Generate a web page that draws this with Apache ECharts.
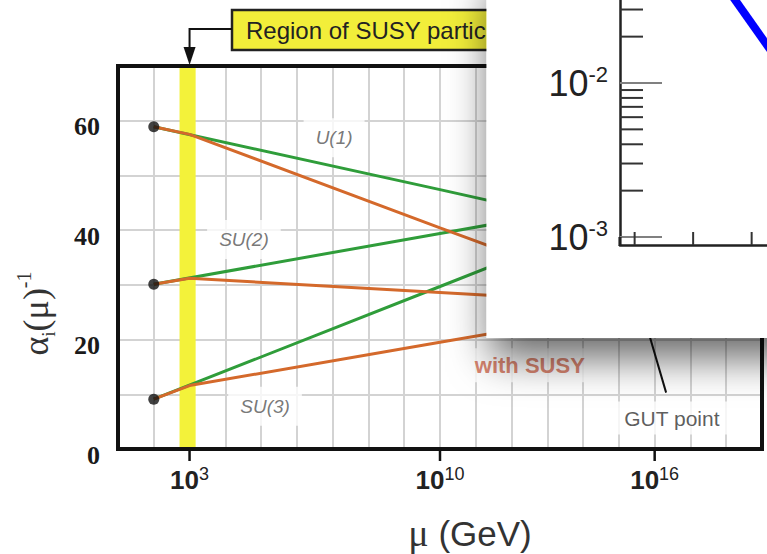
<!DOCTYPE html>
<html>
<head>
<meta charset="utf-8">
<script src="https://cdn.jsdelivr.net/npm/echarts@6/dist/echarts.min.js"></script>
<style>
  html, body { margin: 0; padding: 0; background: #fff; }
  #chart { width: 767px; height: 554px; }
</style>
</head>
<body>
<div id="chart"></div>
<script>
// Running of the inverse gauge couplings, x = log10(mu / GeV)
const u1SM    = [[2, 58.9], [10, 47.4], [16, 38.7]];
const su2SM   = [[2, 30.1], [10, 39.4], [16, 46.3]];
const su3SM   = [[2, 9.1],  [10, 29.7], [16, 45.2]];
const u1SUSY  = [[2, 58.9], [3, 57.5], [10, 40.4], [16, 26.0]];
const su2SUSY = [[2, 30.1], [3, 31.2], [10, 28.6], [16, 26.4]];
const su3SUSY = [[2, 9.1],  [3, 11.6], [10, 19.5], [16, 26.2]];
const mzPoints = [[2, 58.9], [2, 30.1], [2, 9.1]];
const susyBand = [[2.72, 3.17]];
const gutPointer = [[15.62, 26.0], [16.32, 10.3]];

const xLabelExps = [3, 10, 16];
const yLabelValues = [0, 20, 40, 60];

const groupLabels = [
  { name: 'U(1)',  value: [7.04, 56.9] },
  { name: 'SU(2)', value: [4.52, 38.3] },
  { name: 'SU(3)', value: [5.11, 7.8] }
];
const noteLabels = [
  { name: 'with SUSY', value: [12.51, 15.3] },
  { name: 'GUT point', value: [16.48, 5.65] }
];
const bandTitle = 'Region of SUSY particles';

// small panel: log-scale coupling against scale
const insetYTicks = [0.001, 0.002, 0.003, 0.004, 0.005, 0.006, 0.007, 0.008, 0.009,
                     0.01, 0.02, 0.03];
const insetXTicks = [1, 5, 9];
const insetCurve = [[7.4, 0.040], [10.3, 0.0163]];

const GREEN = '#2f9d3a';
const ORANGE = '#d4692b';
const SANS = 'Liberation Sans';
const SERIF = 'Liberation Serif';

const chart = echarts.init(document.getElementById('chart'), null, { renderer: 'svg' });

function lineSeries(data, color, z) {
  return {
    type: 'line', xAxisIndex: 0, yAxisIndex: 0, data: data,
    symbol: 'none', silent: true, z: z,
    lineStyle: { color: color, width: 3 }
  };
}

const labelBase = {
  show: true, position: 'inside', formatter: '{b}',
  fontFamily: SANS, fontStyle: 'italic', fontSize: 19, color: '#555',
  backgroundColor: '#fff', padding: [10, 12]
};

chart.setOption({
  animation: false,
  grid: [
    { left: 118, right: 5, top: 66, bottom: 105, outerBoundsMode: 'none' },
    { left: 620, top: -71, width: 149.2, height: 308, outerBoundsMode: 'none' }
  ],
  xAxis: [
    {
      type: 'value', gridIndex: 0, min: 1, max: 19, interval: 1,
      axisLine: { show: false }, axisTick: { show: false },
      splitLine: { show: true, lineStyle: { color: '#d3d3d3', width: 2 } },
      axisLabel: {
        margin: 16,
        formatter: v => xLabelExps.includes(v) ? '{b|10}{s|' + v + '}' : '',
        rich: {
          b: { fontFamily: SANS, fontWeight: 'bold', fontSize: 26, color: '#222', lineHeight: 29 },
          s: { fontFamily: SANS, fontSize: 18, color: '#222', verticalAlign: 'top', lineHeight: 18 }
        }
      },
      name: '{m|μ} {t|(GeV)}', nameLocation: 'middle', nameGap: 65,
      nameTextStyle: {
        fontSize: 35, fontFamily: SANS, color: '#333', padding: [0, 0, 0, 60],
        rich: {
          m: { fontFamily: SERIF, fontSize: 38, color: '#333' },
          t: { fontFamily: SANS, fontSize: 35, color: '#333' }
        }
      }
    },
    {
      type: 'value', gridIndex: 1, min: 0, max: 10.2, offset: 8, z: 30,
      axisLine: { show: true, onZero: false, lineStyle: { color: '#222', width: 2.5 } },
      axisTick: { show: false }, axisLabel: { show: false }, splitLine: { show: false }
    }
  ],
  yAxis: [
    {
      type: 'value', gridIndex: 0, min: 0, max: 70, interval: 10,
      axisLine: { show: false }, axisTick: { show: false },
      splitLine: { show: true, lineStyle: { color: '#d3d3d3', width: 2 } },
      axisLabel: {
        margin: 18,
        formatter: v => yLabelValues.includes(v) ? '{v|' + v + '}' : '',
        rich: {
          v: { fontFamily: SERIF, fontWeight: 'bold', fontSize: 26, color: '#1a1a1a',
               padding: [12, 0, 0, 0] }
        }
      },
      name: '{a|α}{i|i}{a|(μ)}{p|-1}', nameLocation: 'middle', nameGap: 60,
      nameTextStyle: {
        padding: [0, 112, 0, 0],
        rich: {
          a: { fontFamily: SERIF, fontSize: 36, color: '#333', lineHeight: 44 },
          i: { fontFamily: SERIF, fontSize: 19, color: '#333', verticalAlign: 'bottom', lineHeight: 19 },
          p: { fontFamily: SERIF, fontSize: 20, color: '#333', verticalAlign: 'top', lineHeight: 20 }
        }
      }
    },
    {
      type: 'log', logBase: 10, gridIndex: 1, min: 0.001, max: 0.1, z: 30,
      axisLine: { show: true, onZero: false, lineStyle: { color: '#222', width: 2.5 } },
      axisTick: { show: false }, splitLine: { show: false },
      axisLabel: {
        margin: 12,
        formatter: v => {
          const e = Math.log10(v);
          const r = Math.round(e);
          return (Math.abs(e - r) < 1e-6 && (r === -2 || r === -3)) ? '{b|10}{s|' + r + '}' : '';
        },
        rich: {
          b: { fontFamily: SANS, fontSize: 36, color: '#222', lineHeight: 40 },
          s: { fontFamily: SANS, fontSize: 22, color: '#222', verticalAlign: 'top', lineHeight: 22 }
        }
      }
    }
  ],
  series: [
    {
      // light band marking the superpartner mass range
      type: 'custom', xAxisIndex: 0, yAxisIndex: 0, z: 1, silent: true,
      data: susyBand,
      renderItem: (params, api) => {
        const a = api.coord([api.value(0), 70]);
        const b = api.coord([api.value(1), 0]);
        return { type: 'rect', shape: { x: a[0], y: a[1], width: b[0] - a[0], height: b[1] - a[1] },
                 style: { fill: '#f3f23a' } };
      }
    },
    lineSeries(u1SM, GREEN, 2),
    lineSeries(su2SM, GREEN, 2),
    lineSeries(su3SM, GREEN, 2),
    lineSeries(u1SUSY, ORANGE, 3),
    lineSeries(su2SUSY, ORANGE, 3),
    lineSeries(su3SUSY, ORANGE, 3),
    {
      type: 'line', xAxisIndex: 0, yAxisIndex: 0, data: gutPointer, symbol: 'none',
      silent: true, z: 3, lineStyle: { color: '#111', width: 2 }
    },
    {
      type: 'scatter', xAxisIndex: 0, yAxisIndex: 0, data: mzPoints, z: 5,
      symbolSize: 11, itemStyle: { color: '#111' }, silent: true
    },
    {
      type: 'scatter', xAxisIndex: 0, yAxisIndex: 0, z: 4, symbolSize: 0, silent: true,
      data: groupLabels, label: labelBase
    },
    {
      type: 'scatter', xAxisIndex: 0, yAxisIndex: 0, z: 4, symbolSize: 0, silent: true,
      data: [
        { name: noteLabels[0].name, value: noteLabels[0].value,
          label: Object.assign({}, labelBase, { fontStyle: 'normal', fontWeight: 'bold', fontSize: 22,
                                                color: '#d0654a', padding: [6, 6] }) },
        { name: noteLabels[1].name, value: noteLabels[1].value,
          label: Object.assign({}, labelBase, { fontStyle: 'normal', fontSize: 21,
                                                color: '#333', padding: [6, 8] }) }
      ]
    },
    {
      // tick marks under the labelled decades
      type: 'custom', xAxisIndex: 0, yAxisIndex: 0, z: 12, silent: true,
      data: xLabelExps.map(v => [v]),
      renderItem: (params, api) => {
        const p = api.coord([api.value(0), 0]);
        return { type: 'line', shape: { x1: p[0], y1: p[1], x2: p[0], y2: p[1] + 12 },
                 style: { stroke: '#111', lineWidth: 2.5 } };
      }
    },
    {
      // panel y ticks: long at decades, short in between
      type: 'custom', xAxisIndex: 1, yAxisIndex: 1, z: 31, silent: true,
      data: insetYTicks.map(v => [0, v]),
      renderItem: (params, api) => {
        const v = api.value(1);
        const p = api.coord([0, v]);
        const e = Math.log10(v);
        const major = Math.abs(e - Math.round(e)) < 1e-6;
        return { type: 'line', shape: { x1: p[0], y1: p[1], x2: p[0] + (major ? 42 : 23), y2: p[1] },
                 style: { stroke: major ? '#808080' : '#333', lineWidth: 2 } };
      }
    },
    {
      // panel x ticks, drawn upward from the shifted x axis line
      type: 'custom', xAxisIndex: 1, yAxisIndex: 1, z: 31, silent: true,
      data: insetXTicks.map(v => [v, 0.001]),
      renderItem: (params, api) => {
        const p = api.coord([api.value(0), api.value(1)]);
        const o = api.coord([0, api.value(1)]);
        return { type: 'group', children: [
          { type: 'line', shape: { x1: p[0], y1: p[1] + 8, x2: p[0], y2: p[1] - 5 },
            style: { stroke: '#333', lineWidth: 2 } },
          { type: 'line', shape: { x1: o[0], y1: o[1], x2: o[0], y2: o[1] + 9 },
            style: { stroke: '#222', lineWidth: 2.5 } }
        ] };
      }
    },
    {
      type: 'line', xAxisIndex: 1, yAxisIndex: 1, data: insetCurve, symbol: 'none',
      silent: true, z: 32, lineStyle: { color: '#0000ff', width: 8 }
    }
  ]
});

// frame, band callout and the overlapping panel
const tl = chart.convertToPixel({ xAxisIndex: 0, yAxisIndex: 0 }, [1, 70]);
const br = chart.convertToPixel({ xAxisIndex: 0, yAxisIndex: 0 }, [19, 0]);
const bandX = chart.convertToPixel({ xAxisIndex: 0, yAxisIndex: 0 }, [3, 70])[0];
const panelLeft = chart.convertToPixel({ xAxisIndex: 0, yAxisIndex: 0 }, [11.3, 0])[0];

chart.setOption({
  graphic: [
    { type: 'rect', z: 10, silent: true,
      shape: { x: tl[0], y: tl[1], width: br[0] - tl[0], height: br[1] - tl[1] },
      style: { fill: 'none', stroke: '#111', lineWidth: 4 } },
    { type: 'rect', z: 10, silent: true,
      shape: { x: 232, y: 10, width: 330, height: 40 },
      style: { fill: '#f2ee3a', stroke: '#222', lineWidth: 2.5 } },
    { type: 'text', z: 11, silent: true, x: 246, y: 30,
      style: { text: bandTitle, font: '24px "Liberation Sans"', fill: '#222', verticalAlign: 'middle' } },
    { type: 'polyline', z: 10, silent: true,
      shape: { points: [[232, 29], [bandX, 29], [bandX, 50]] },
      style: { fill: 'none', stroke: '#111', lineWidth: 2 } },
    { type: 'polygon', z: 10, silent: true,
      shape: { points: [[bandX - 6, 47], [bandX + 6, 47], [bandX, 65]] },
      style: { fill: '#111' } },
    { type: 'rect', z: 20, silent: true,
      shape: { x: panelLeft, y: -30, width: 400, height: 368 },
      style: { fill: '#fff', shadowBlur: 42, shadowColor: 'rgba(0,0,0,0.6)',
               shadowOffsetX: 4, shadowOffsetY: 20 } }
  ]
});
</script>
</body>
</html>
